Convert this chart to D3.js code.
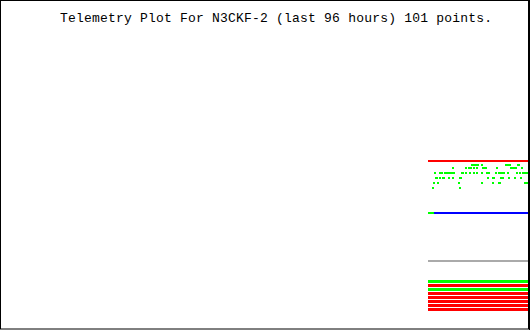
<!DOCTYPE html>
<html>
<head>
<meta charset="utf-8">
<script src="https://cdn.jsdelivr.net/npm/d3@7"></script>
<style>
  body { margin: 0; background: #fff; }
  svg { display: block; }
</style>
</head>
<body>
<script>
var title = "Telemetry Plot For N3CKF-2 (last 96 hours) 101 points.";
var nPoints = 101;

// green channel: sample index and value of each dot
var tempIdx = [43,45,47,49,53,77,79,81,89,90,
  24,37,40,42,45,48,54,56,57,68,82,84,86,87,93,
  6,11,13,16,18,20,22,24,25,33,34,37,41,45,48,53,58,60,67,70,72,74,75,79,88,91,94,96,98,99,
  7,8,11,14,15,20,24,31,32,59,64,65,72,74,80,86,92,
  5,9,30,53,64,70,71,96,98,
  4,31];
var tempVal = [79,79,79,79,79,79,79,79,79,79,
  78,78,78,78,78,78,78,78,78,78,78,78,78,78,78,
  76,76,76,76,76,76,76,76,76,76,76,76,76,76,76,76,76,76,76,76,76,76,76,76,76,76,76,76,76,76,
  74,74,74,74,74,74,74,74,74,74,74,74,74,74,74,74,74,
  72,72,72,72,72,72,72,72,72,
  70,70];

// analog channels (flat over the window)
var redVal = 80.6, blueVal = 59.8, grayVal = 40.6;
var greenLeadEnd = 4;

// digital bits, one stripe each
var bits = [1,0,1,0,0,0,0,0];

var W = 530, H = 330;
var svg = d3.select("body").append("svg")
    .attr("width", W)
    .attr("height", H);

svg.append("rect").attr("width", W).attr("height", H).attr("fill", "#fff");

var x = d3.scaleLinear().domain([0, nPoints - 1]).range([428, 528]);
var y = d3.scaleLinear().domain([70, 79]).range([187.5, 165]);

var line = d3.line()
    .x(function(d){ return d[0]; })
    .y(function(d){ return y(d[1]); });

function flat(v, i0, i1, color){
  svg.append("path")
      .attr("d", line([[x(i0), v], [x(i1) + 2, v]]))
      .attr("stroke", color)
      .attr("stroke-width", 2)
      .attr("fill", "none")
      .attr("shape-rendering", "crispEdges");
}

flat(redVal, 0, nPoints - 1, "#ff0000");
flat(blueVal, greenLeadEnd, nPoints - 1, "#0000ff");
flat(blueVal, 0, greenLeadEnd, "#00ff00");
flat(grayVal, 0, nPoints - 1, "#aaaaaa");

// green dots
svg.selectAll("rect.dot")
    .data(tempIdx)
    .enter().append("rect")
      .attr("class", "dot")
      .attr("x", function(d){ return x(d); })
      .attr("y", function(d, i){ return Math.round(y(tempVal[i])) - 1; })
      .attr("width", 2)
      .attr("height", 2)
      .attr("fill", "#00ff00");

// bit stripes
svg.selectAll("rect.bit")
    .data(bits)
    .enter().append("rect")
      .attr("class", "bit")
      .attr("x", x(0))
      .attr("y", function(d, i){ return 280 + i * 4; })
      .attr("width", x(nPoints - 1) - x(0) + 2)
      .attr("height", 3)
      .attr("fill", function(d){ return d ? "#00ff00" : "#ff0000"; });

// frame
svg.append("rect")
    .attr("x", 0.5).attr("y", 0.5)
    .attr("width", 528).attr("height", 328.5)
    .attr("fill", "none")
    .attr("stroke", "#000");
svg.append("line")
    .attr("x1", 529.5).attr("x2", 529.5)
    .attr("y1", 0).attr("y2", H)
    .attr("stroke", "#000");

svg.append("text")
    .attr("x", 60)
    .attr("y", 22)
    .attr("textLength", 432)
    .attr("font-family", "'Liberation Mono', monospace")
    .attr("font-size", "13px")
    .attr("fill", "#000")
    .text(title);
</script>
</body>
</html>
